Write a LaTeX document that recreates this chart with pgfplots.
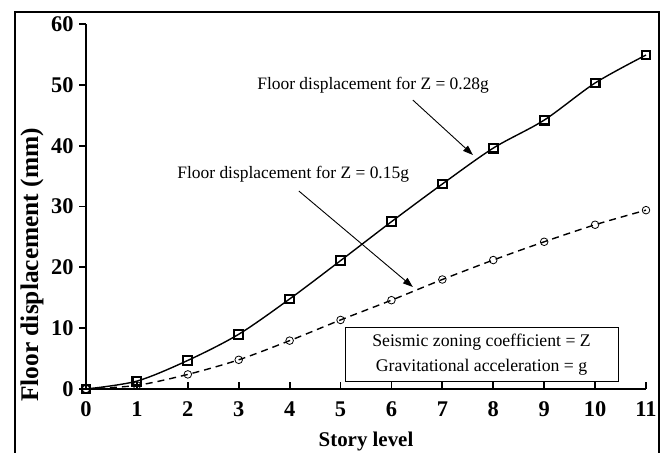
\documentclass[border=0pt]{standalone}
\usepackage{fontspec}
\setmainfont{Liberation Serif}
\usepackage{pgfplots}
\pgfplotsset{compat=1.18}
\usetikzlibrary{arrows.meta}

\begin{document}
\begin{tikzpicture}
\useasboundingbox (-86bp,-64bp) rectangle (579bp,389bp);
\begin{axis}[
  at={(0,0)}, anchor=south west,
  scale only axis, width=560bp, height=365bp,
  xmin=0, xmax=11, ymin=0, ymax=60,
  xtick={0,...,11}, ytick={0,10,...,60},
  axis x line*=bottom, axis y line*=left,
  xtick align=inside, ytick align=outside,
  axis line style={line width=2.2bp},
  major tick length=7bp,
  every tick/.style={black, line width=1.8bp},
  /pgf/number format/assume math mode=true,
  tick label style={font=\fontsize{22.5}{24}\selectfont\bfseries},
  xticklabel style={yshift=-9bp},
  yticklabel style={xshift=-2bp},
  xlabel={Story level},
  ylabel={Floor displacement (mm)},
  xlabel style={at={(rel axis cs:0.5,-0.1425)}, anchor=center,
    font=\fontsize{21}{24}\selectfont\bfseries},
  ylabel style={at={(rel axis cs:-0.0964,0.34)}, anchor=center,
    font=\fontsize{25.5}{28}\selectfont\bfseries},
  clip=false,
]
% Z = 0.28g
\addplot[black, line width=1.4bp, smooth, mark=square, mark size=4.4bp,
  mark options={line width=2.1bp, fill=none}] coordinates {
  (0,0) (1,1.3) (2,4.7) (3,9.0) (4,14.8) (5,21.1) (6,27.5)
  (7,33.7) (8,39.6) (9,44.2) (10,50.3) (11,54.9)};
% Z = 0.15g
\addplot[black, line width=1.4bp, dash pattern=on 7bp off 5bp, smooth, mark=o,
  mark size=3.8bp, mark options={solid, line width=0.8bp, fill=none}] coordinates {
  (0,0) (1,0.6) (2,2.4) (3,4.8) (4,7.95) (5,11.35) (6,14.6)
  (7,18.0) (8,21.2) (9,24.2) (10,27.0) (11,29.4)};

\node[font=\fontsize{17.5}{21}\selectfont] at (axis cs:5.64,49.97)
  {Floor displacement for Z = 0.28g};
\draw[line width=0.9bp, -{Triangle[length=10bp,width=7bp]}]
  (axis cs:6.42,47.5) -- (axis cs:7.60,38.47);
\node[font=\fontsize{17.5}{21}\selectfont] at (axis cs:4.07,35.3)
  {Floor displacement for Z = 0.15g};
\draw[line width=0.9bp, -{Triangle[length=10bp,width=7bp]}]
  (axis cs:4.18,32.55) -- (axis cs:6.42,16.77);
\node[draw, line width=1bp, fill=white, minimum width=273bp, minimum height=54bp,
  align=center, font=\fontsize{17.8}{25}\selectfont] at (axis cs:7.77,5.59)
  {Seismic zoning coefficient = Z\\Gravitational acceleration = g};
\end{axis}
\draw[line width=1.2bp] (-71bp,-70bp) rectangle (573bp,377bp);
\end{tikzpicture}
\end{document}
